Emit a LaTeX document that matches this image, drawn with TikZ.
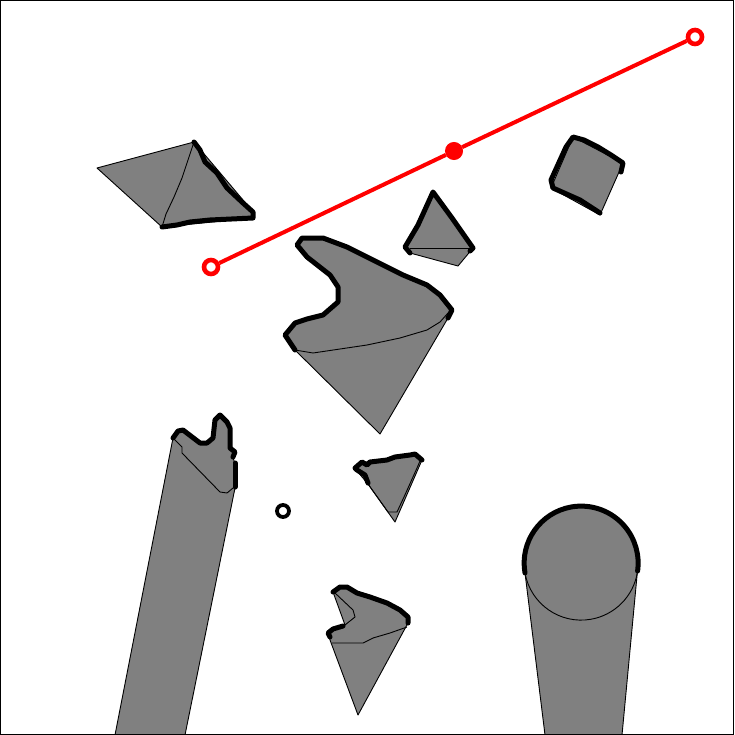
\documentclass[tikz,border=0pt]{standalone}
\usepackage{tikz}
\usetikzlibrary{positioning}

\definecolor{shade}{RGB}{128,128,128}
\definecolor{route}{RGB}{255,0,0}

\begin{document}
\begin{tikzpicture}[
  x=1pt,y=-1pt,
  body/.style={fill=shade,draw=black,line width=0.9pt,line join=round},
  rim/.style={draw=black,line width=5pt,line join=round,line cap=round},
  seam/.style={draw=black,line width=0.9pt,line join=round},
  viewpt/.style={circle,draw=black,line width=3.8pt,fill=white,minimum size=12pt,inner sep=0pt},
  endpt/.style={circle,draw=route,line width=4.6pt,fill=white,minimum size=14pt,inner sep=0pt},
  midpt/.style={circle,draw=route,fill=route,line width=1pt,minimum size=17pt,inner sep=0pt},
  path/.style={draw=route,line width=4pt}
]
\useasboundingbox (0,0) rectangle (734,735);
\fill[white] (0,0) rectangle (734,735);

% top left triangle
\path[body] (97,168) -- (194,142) -- (254,213) -- (253,218) -- (162,227) -- cycle;
\draw[seam] (194,142) -- (188,160) -- (182,178) -- (174,197) -- (166,214) -- (162,227);
\draw[rim] (194,142) -- (200,150) -- (205,162) -- (217,173) -- (227,188) -- (243,203)
  -- (253,212) -- (253,218) -- (210,220) -- (190,222) -- (177,225) -- (162,227);

% large notched shape
\path[body] (295,350) -- (285,335) -- (295,323) -- (307,319) -- (323,315) -- (338,302)
  -- (338,287) -- (330,275) -- (307,257) -- (297,245) -- (302,238) -- (323,238)
  -- (347,247) -- (373,260) -- (403,275) -- (427,285) -- (440,295) -- (452,310)
  -- (448,318) -- (380,434) -- cycle;
\draw[seam] (295,350) -- (313,353) -- (340,349) -- (367,345) -- (400,338) -- (427,330)
  -- (440,322) -- (448,313);
\draw[rim] (295,350) -- (285,335) -- (295,323) -- (307,319) -- (323,315) -- (338,302)
  -- (338,287) -- (330,275) -- (307,257) -- (297,245) -- (302,238) -- (323,238)
  -- (347,247) -- (373,260) -- (403,275) -- (427,285) -- (440,295) -- (452,310)
  -- (448,318);

% small triangle
\path[body] (405,247) -- (433,192) -- (473,248) -- (458,266) -- (410,253) -- cycle;
\draw[seam] (410,248) -- (472,248);
\draw[rim] (410,253) -- (405,247) -- (418,225) -- (433,192) -- (452,218) -- (473,248)
  -- (470,251);

% square
\path[body] (573,137) -- (623,163) -- (600,215) -- (551,188) -- cycle;
\draw[rim] (621,172) -- (623,163) -- (611,155) -- (598,147) -- (584,140) -- (573,137)
  -- (566,147) -- (551,180) -- (553,188) -- (580,200) -- (600,213);

% left bar
\path[body] (115,735) -- (173,438) -- (178,431) -- (183,430) -- (200,443) -- (207,443)
  -- (213,438) -- (215,420) -- (220,415) -- (227,422) -- (230,428) -- (230,448)
  -- (235,452) -- (233,458) -- (235,463) -- (235,488) -- (185,735) -- cycle;
\draw[seam] (173,438) -- (182,447) -- (182,453) -- (220,492) -- (227,493) -- (233,488);
\draw[rim] (173,438) -- (178,431) -- (183,430) -- (200,443) -- (207,443) -- (213,438)
  -- (215,420) -- (220,415) -- (227,422) -- (230,428) -- (230,448) -- (235,452)
  -- (233,457);
\draw[rim] (235,463) -- (235,487);

% viewpoint
\node[viewpt] (eye) at (283,511) {};

% middle triangle
\path[body] (355,468) -- (362,462) -- (370,462) -- (390,458) -- (415,454) -- (422,460)
  -- (395,522) -- (368,484) -- (357,471) -- cycle;
\draw[seam] (368,484) -- (378,498) -- (388,512) -- (397,512) -- (404,497) -- (417,468)
  -- (420,461);
\draw[rim] (368,483) -- (365,475) -- (357,470) -- (355,468) -- (362,462) -- (367,465)
  -- (370,462) -- (387,460) -- (395,457) -- (410,455) -- (415,454) -- (422,460);

% lower notched shape
\path[body] (333,592) -- (340,587) -- (347,587) -- (357,593) -- (387,603) -- (400,610)
  -- (408,617) -- (408,623) -- (358,715) -- (330,640) -- (328,633) -- (333,629)
  -- (345,625) -- cycle;
\draw[seam] (335,593) -- (353,610) -- (355,617) -- (345,625);
\draw[seam] (332,643) -- (363,643) -- (373,638) -- (390,633) -- (407,627);
\draw[rim] (333,592) -- (340,587) -- (347,587) -- (357,593) -- (370,597) -- (387,603)
  -- (400,610) -- (408,617) -- (408,623);
\draw[rim] (330,637) -- (328,633) -- (333,629) -- (343,626);

% disc with its trail
\path[body] (545,735) -- (525,573) arc[start angle=170,end angle=370,radius=57]
  -- (622,735) -- cycle;
\draw[seam] (525,573) arc[start angle=170,end angle=10,radius=57];
\draw[rim] (525,573) arc[start angle=170,end angle=368,radius=57];

% route
\node[endpt] (start) at (211,267) {};
\node[midpt] (via) at (454,151) {};
\node[endpt] (goal) at (695,37) {};
\draw[path] (start) -- (via);
\draw[path] (via) -- (goal);

% frame
\draw[black,line width=1.4pt] (0.7,0.7) rectangle (733.3,734.3);
\end{tikzpicture}
\end{document}
